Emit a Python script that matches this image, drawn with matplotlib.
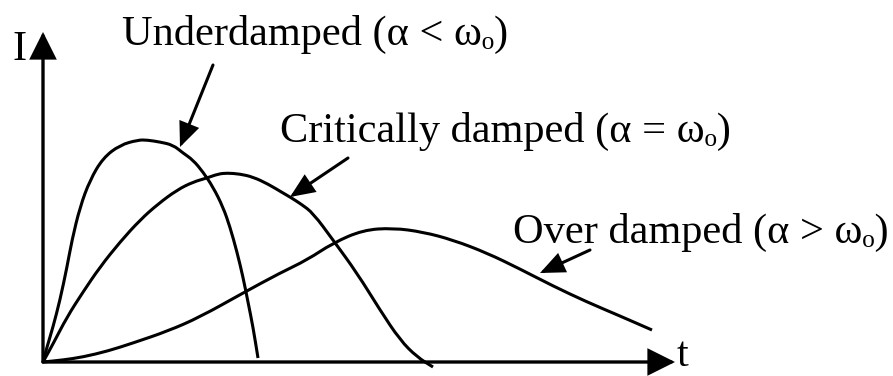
import matplotlib
matplotlib.use("Agg")
import matplotlib.pyplot as plt
from matplotlib.path import Path
from matplotlib.patches import PathPatch

# Curve samples (t, I in arbitrary units)
under_t = [0, 4, 10, 17, 24, 29, 37, 47, 60, 77, 95, 104, 117, 130, 140, 150, 160, 170, 180, 187, 194, 200, 205, 210, 215]
under_i = [0, 15, 35, 62, 95, 122, 155, 182, 204, 217, 222, 222, 220, 217, 209, 202, 190, 175, 155, 135, 110, 85, 60, 35, 4]

crit_t = [0, 10, 24, 40, 57, 77, 97, 115, 134, 150, 164, 175, 184, 197, 210, 225, 240, 247, 258, 270, 290, 314, 337, 357, 374, 390]
crit_i = [0, 18, 45, 70, 95, 120, 142, 158, 172, 180, 184, 188, 189, 188, 185, 178, 169, 165, 158, 149, 122, 89, 52, 22, 5, -5]

over_t = [0, 20, 40, 65, 90, 125, 157, 200, 237, 264, 290, 320, 350, 380, 410, 444, 477, 510, 544, 577, 609]
over_i = [0, 2, 5, 11, 19, 31, 45, 69, 89, 102, 119, 132, 134, 130, 122, 109, 93, 76, 60, 46, 32]

labels = ["Underdamped (α < ωₒ)", "Critically damped (α = ωₒ)", "Over damped (α > ωₒ)"]
label_pos = [(79, 317), (237, 220), (470, 119)]
# arrow tail -> tip for each label
label_arrows = [((170, 297), (137, 215)), ((305, 204), (247, 165)), ((547, 112), (497, 89))]

T_MAX = 632
I_MAX = 330

FONT = ["Liberation Serif", "DejaVu Serif"]


def arrow(ax, start, end, lw, hl, hw):
    ax.annotate("", xy=end, xytext=start,
                arrowprops=dict(arrowstyle=f"-|>,head_length={hl},head_width={hw}",
                                lw=lw, color="black", mutation_scale=10,
                                shrinkA=0, shrinkB=0, joinstyle="miter"))


def smooth_curve(ax, t, i):
    # quadratic spline: read points act as control points, curve runs through midpoints
    pts = list(zip(t, i))
    verts = [pts[0], ((pts[0][0] + pts[1][0]) / 2, (pts[0][1] + pts[1][1]) / 2)]
    codes = [Path.MOVETO, Path.LINETO]
    for k in range(1, len(pts) - 1):
        mid = ((pts[k][0] + pts[k + 1][0]) / 2, (pts[k][1] + pts[k + 1][1]) / 2)
        verts += [pts[k], mid]
        codes += [Path.CURVE3, Path.CURVE3]
    verts.append(pts[-1])
    codes.append(Path.LINETO)
    ax.add_patch(PathPatch(Path(verts, codes), facecolor="none", edgecolor="black",
                           lw=2.2, capstyle="butt", joinstyle="round"))


def main():
    fig = plt.figure(figsize=(8.93, 3.76), dpi=100)
    ax = fig.add_axes([0, 0, 1, 1])
    ax.set_xlim(-43, 850)
    ax.set_ylim(-14, 362)
    ax.axis("off")

    # axes with arrow heads
    arrow(ax, (0, 0), (0, I_MAX), 2.4, 1.6, 0.8)
    arrow(ax, (0, 0), (T_MAX, 0), 2.4, 1.6, 0.8)
    ax.text(-31, 302, "I", fontsize=30.5, family=FONT, va="baseline", ha="left")
    ax.text(634, -13, "t", fontsize=30.5, family=FONT, va="bottom", ha="left")

    for t, i in [(under_t, under_i), (crit_t, crit_i), (over_t, over_i)]:
        smooth_curve(ax, t, i)

    for text, pos, (tail, tip) in zip(labels, label_pos, label_arrows):
        ax.text(pos[0], pos[1], text, fontsize=30.5, family=FONT, va="baseline", ha="left")
        arrow(ax, tail, tip, 2.2, 1.4, 0.6)

    fig.savefig("out.png", dpi=100)


if __name__ == "__main__":
    main()
